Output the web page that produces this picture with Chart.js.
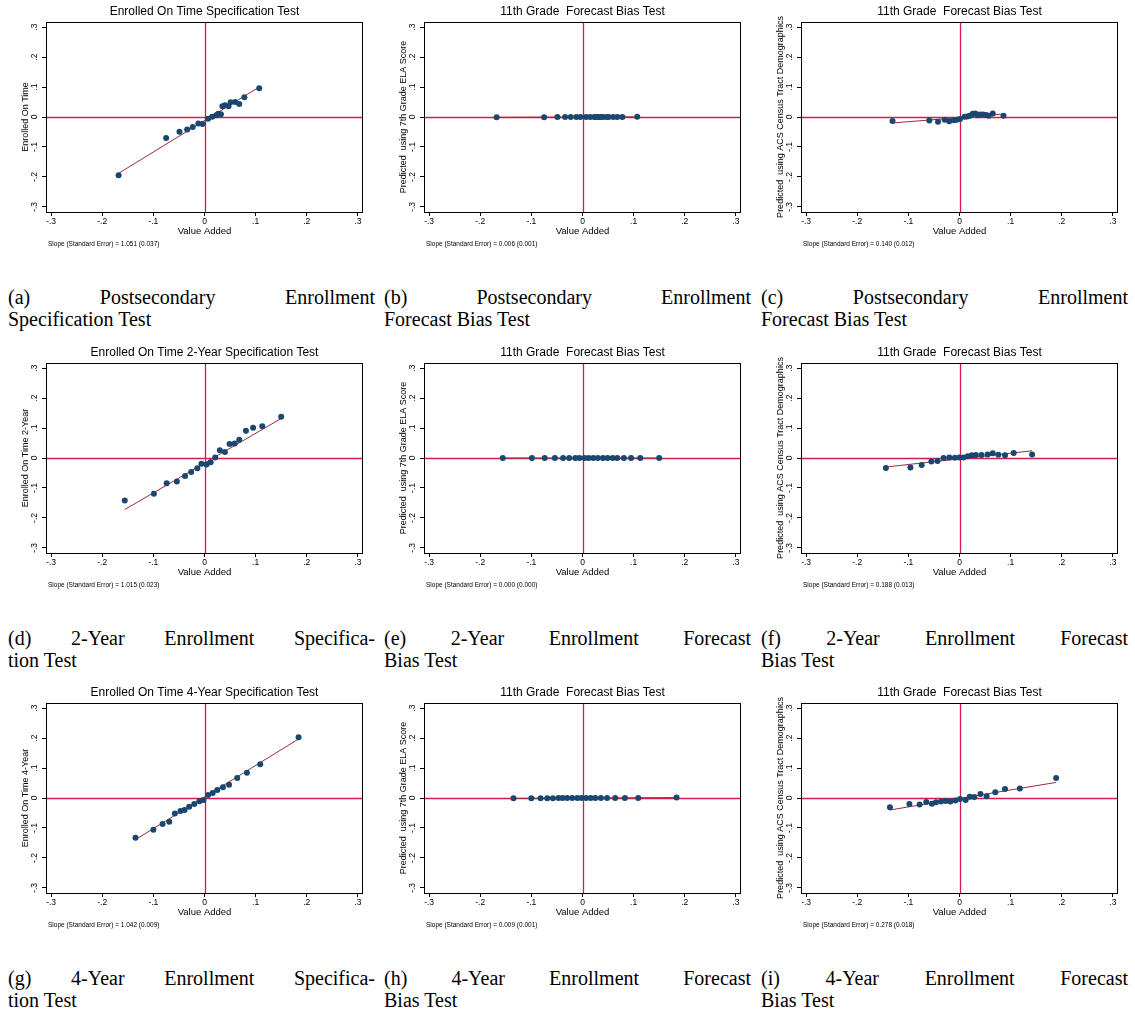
<!DOCTYPE html>
<html><head><meta charset="utf-8">
<script src="https://cdn.jsdelivr.net/npm/chart.js@4.4.1/dist/chart.umd.min.js"></script>
<style>
html,body{margin:0;padding:0;background:#fff}
body{width:1135px;height:1013px;position:relative;overflow:hidden}
canvas{position:absolute}
.cap{position:absolute;font-family:"Liberation Serif","DejaVu Serif",serif;font-size:20px;line-height:22px;color:#000;width:367px}
.l1{text-align:justify;text-align-last:justify}
.l2{text-align:left}
</style></head><body>
<script>
// ---- tick definitions ----
const tickValues = [-0.3,-0.2,-0.1,0,0.1,0.2,0.3];
const tickLabels = ["-.3","-.2","-.1","0",".1",".2",".3"];

// ---- panel (a) ----
const xA = [-0.168,-0.075,-0.049,-0.034,-0.023,-0.012,-0.004,0.007,0.015,0.023,0.027,0.032,0.035,0.040,0.047,0.051,0.060,0.068,0.078,0.107];
const yA = [-0.194,-0.070,-0.049,-0.042,-0.033,-0.022,-0.023,-0.006,0.001,0.006,0.011,0.009,0.036,0.039,0.036,0.049,0.050,0.043,0.066,0.096];
const fitXA = [-0.168,0.107], fitYA = [-0.188,0.100];
// ---- panel (b) ----
const xB = xA;
const yB = [-0.001,-0.0005,-0.0003,-0.0002,-0.0001,0,0,0,0,0,0,0,0,0,0,0,0,0,0,0.0006];
const fitXB = [-0.168,0.107], fitYB = [-0.001,0.0007];
// ---- panel (c) ----
const xC = [-0.131,-0.059,-0.042,-0.029,-0.020,-0.011,-0.005,0.001,0.010,0.015,0.020,0.026,0.031,0.036,0.040,0.046,0.052,0.057,0.065,0.086];
const yC = [-0.013,-0.012,-0.016,-0.009,-0.014,-0.011,-0.009,-0.007,0.001,0.002,0.004,0.011,0.012,0.006,0.008,0.008,0.007,0.004,0.012,0.004];
const fitXC = [-0.131,0.086], fitYC = [-0.020,0.010];
// ---- panel (d) ----
const xD = [-0.156,-0.099,-0.074,-0.054,-0.038,-0.026,-0.014,-0.006,0.004,0.012,0.021,0.030,0.040,0.049,0.059,0.068,0.081,0.095,0.113,0.150];
const yD = [-0.142,-0.119,-0.084,-0.078,-0.060,-0.047,-0.034,-0.019,-0.022,-0.014,0.002,0.026,0.020,0.047,0.048,0.061,0.091,0.101,0.106,0.138];
const fitXD = [-0.156,0.150], fitYD = [-0.172,0.132];
// ---- panel (e) ----
const xE = xD;
const yE = [0,0,0,0,0,0,0,0,0,0,0,0,0,0,0,0,0,0,0,0];
const fitXE = [-0.156,0.150], fitYE = [0,0];
// ---- panel (f) ----
const xF = [-0.144,-0.096,-0.074,-0.055,-0.043,-0.031,-0.020,-0.009,0.000,0.008,0.016,0.024,0.032,0.043,0.055,0.065,0.076,0.089,0.106,0.142];
const yF = [-0.033,-0.032,-0.023,-0.012,-0.010,0.000,0.002,0.001,0.002,0.002,0.006,0.009,0.010,0.010,0.012,0.016,0.011,0.009,0.017,0.012];
const fitXF = [-0.144,0.142], fitYF = [-0.030,0.024];
// ---- panel (g) ----
const xG = [-0.135,-0.100,-0.082,-0.069,-0.058,-0.047,-0.039,-0.030,-0.020,-0.010,-0.002,0.007,0.016,0.025,0.036,0.048,0.064,0.083,0.109,0.184];
const yG = [-0.133,-0.106,-0.087,-0.079,-0.052,-0.043,-0.040,-0.029,-0.020,-0.011,-0.007,0.010,0.017,0.027,0.036,0.044,0.067,0.084,0.113,0.203];
const fitXG = [-0.135,0.184], fitYG = [-0.139,0.197];
// ---- panel (h) ----
const xH = xG;
const yH = [-0.001,-0.001,-0.001,-0.001,-0.001,0,0,0,0,0,0,0,0,0,0,0,0,0,0,0.002];
const fitXH = [-0.135,0.184], fitYH = [-0.0013,0.0015];
// ---- panel (i) ----
const xI = [-0.136,-0.098,-0.078,-0.065,-0.054,-0.046,-0.036,-0.027,-0.018,-0.008,0.001,0.012,0.020,0.029,0.041,0.053,0.070,0.089,0.118,0.189];
const yI = [-0.031,-0.020,-0.022,-0.013,-0.019,-0.014,-0.012,-0.010,-0.012,-0.008,-0.003,-0.007,0.004,0.003,0.013,0.006,0.019,0.030,0.032,0.067];
const fitXI = [-0.136,0.189], fitYI = [-0.040,0.052];

// ---- texts ----
const titles = ["Enrolled On Time Specification Test","11th Grade  Forecast Bias Test","11th Grade  Forecast Bias Test",
  "Enrolled On Time 2-Year Specification Test","11th Grade  Forecast Bias Test","11th Grade  Forecast Bias Test",
  "Enrolled On Time 4-Year Specification Test","11th Grade  Forecast Bias Test","11th Grade  Forecast Bias Test"];
const yTitles = ["Enrolled On Time","Predicted  using 7th Grade ELA Score","Predicted  using ACS Census Tract Demographics",
  "Enrolled On Time 2-Year","Predicted  using 7th Grade ELA Score","Predicted  using ACS Census Tract Demographics",
  "Enrolled On Time 4-Year","Predicted  using 7th Grade ELA Score","Predicted  using ACS Census Tract Demographics"];
const notes = ["1.051 (0.037)","0.006 (0.001)","0.140 (0.012)","1.015 (0.023)","0.000 (0.000)","0.188 (0.013)","1.042 (0.009)","0.009 (0.001)","0.278 (0.018)"];
const capLine1 = ["(a) Postsecondary Enrollment","(b) Postsecondary Enrollment","(c) Postsecondary Enrollment",
  "(d) 2-Year Enrollment Specifica-","(e) 2-Year Enrollment Forecast","(f) 2-Year Enrollment Forecast",
  "(g) 4-Year Enrollment Specifica-","(h) 4-Year Enrollment Forecast","(i) 4-Year Enrollment Forecast"];
const capLine2 = ["Specification Test","Forecast Bias Test","Forecast Bias Test","tion Test","Bias Test","Bias Test","tion Test","Bias Test","Bias Test"];

const panelX = [xA,xB,xC,xD,xE,xF,xG,xH,xI];
const panelY = [yA,yB,yC,yD,yE,yF,yG,yH,yI];
const panelFitX = [fitXA,fitXB,fitXC,fitXD,fitXE,fitXF,fitXG,fitXH,fitXI];
const panelFitY = [fitYA,fitYB,fitYC,fitYD,fitYE,fitYF,fitYG,fitYH,fitYI];

const NAVY = '#1a476f', FIT = '#9b2d3a', REF = 'rgb(212,28,78)';
const colLeft = [0,378,755], rowTop = [0,341,681];
const capLeft = [8,384,761];
const CW = 378, CH = 252;

const framePlugin = {
  id:'frame',
  beforeDatasetsDraw(chart, args, opts){
    const {ctx, chartArea:a, scales:{x,y}} = chart;
    const px = Math.round(x.getPixelForValue(0))+0.5, py = Math.round(y.getPixelForValue(0))+0.5;
    ctx.save();
    ctx.strokeStyle = REF; ctx.lineWidth = 1.3;
    ctx.beginPath();
    ctx.moveTo(px,a.top); ctx.lineTo(px,a.bottom);
    ctx.moveTo(a.left,py); ctx.lineTo(a.right,py);
    ctx.stroke();
    ctx.restore();
  },
  afterDraw(chart, args, opts){
    const {ctx, chartArea:a} = chart;
    ctx.save();
    ctx.strokeStyle = '#000'; ctx.lineWidth = 1;
    ctx.strokeRect(Math.round(a.left)+0.5, Math.round(a.top)+0.5, Math.round(a.right-a.left)-1, Math.round(a.bottom-a.top));
    ctx.fillStyle = '#000';
    ctx.font = '12px "Liberation Sans", Arial, sans-serif';
    ctx.textAlign = 'center'; ctx.textBaseline = 'middle';
    ctx.fillText(opts.title, (a.left+a.right)/2, a.top-10);
    ctx.font = '6.5px "Liberation Sans", Arial, sans-serif';
    ctx.textAlign = 'left';
    ctx.fillText('Slope (Standard Error) = ' + opts.note, a.left+2, a.bottom+32);
    ctx.restore();
  }
};

for (let i=0;i<9;i++){
  const r = Math.floor(i/3), c = i%3;
  const cv = document.createElement('canvas');
  cv.width = CW; cv.height = CH;
  cv.style.left = colLeft[c]+'px'; cv.style.top = rowTop[r]+'px';
  cv.style.width = CW+'px'; cv.style.height = CH+'px';
  document.body.appendChild(cv);
  const pts = panelX[i].map((v,k)=>({x:v,y:panelY[i][k]}));
  const fit = panelFitX[i].map((v,k)=>({x:v,y:panelFitY[i][k]}));
  new Chart(cv.getContext('2d'), {
    type:'scatter',
    data:{datasets:[
      {data:pts, backgroundColor:NAVY, borderColor:NAVY, pointRadius:3, pointBorderWidth:0, showLine:false},
      {type:'line', data:fit, borderColor:FIT, borderWidth:1, pointRadius:0, fill:false, tension:0}
    ]},
    options:{
      responsive:false, animation:false, devicePixelRatio:1,
      layout:{padding:{left:0, top:22, right:15, bottom:2}},
      plugins:{legend:{display:false}, tooltip:{enabled:false}, title:{display:false},
        frame:{title:titles[i], note:notes[i]}},
      scales:{
        x:{type:'linear', min:-0.31, max:0.31,
          afterBuildTicks:s=>{s.ticks = tickValues.map(v=>({value:v}));},
          afterFit:s=>{s.height = 38;},
          ticks:{callback:(v)=>tickLabels[tickValues.findIndex(t=>Math.abs(t-v)<1e-9)], color:'#000', padding:1, maxRotation:0, minRotation:0,
            font:{family:'"Liberation Sans", Arial, sans-serif', size:8.5}},
          grid:{drawOnChartArea:false, drawTicks:true, tickLength:4, color:'#000', lineWidth:1},
          border:{display:false},
          title:{display:true, text:'Value Added', color:'#000', padding:{top:0,bottom:13},
            font:{family:'"Liberation Sans", Arial, sans-serif', size:9.5}}
        },
        y:{type:'linear', min:-0.317, max:0.317,
          afterBuildTicks:s=>{s.ticks = tickValues.map(v=>({value:v}));},
          afterFit:s=>{s.width = 46;},
          ticks:{callback:(v)=>tickLabels[tickValues.findIndex(t=>Math.abs(t-v)<1e-9)], color:'#000', padding:2, minRotation:90, maxRotation:90, crossAlign:'center',
            font:{family:'"Liberation Sans", Arial, sans-serif', size:8.5}},
          grid:{drawOnChartArea:false, drawTicks:true, tickLength:4, color:'#000', lineWidth:1},
          border:{display:false},
          title:{display:true, text:yTitles[i], color:'#000', padding:{top:20.5,bottom:0},
            font:{family:'"Liberation Sans", Arial, sans-serif', size:9}}
        }
      }
    },
    plugins:[framePlugin]
  });
  const cap = document.createElement('div');
  cap.className = 'cap';
  cap.style.left = (capLeft[c])+'px';
  cap.style.top = (rowTop[r]+286)+'px';
  cap.innerHTML = '<div class="l1">'+capLine1[i]+'</div><div class="l2">'+capLine2[i]+'</div>';
  document.body.appendChild(cap);
}
</script>
</body></html>
